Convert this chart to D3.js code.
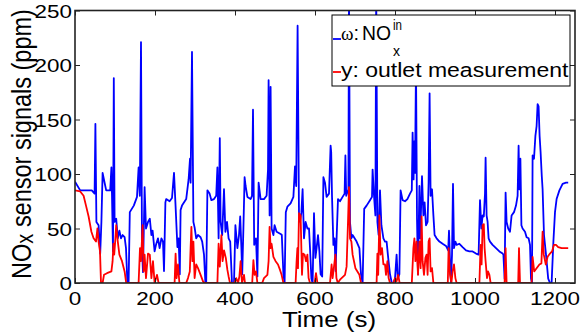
<!DOCTYPE html>
<html>
<head>
<meta charset="utf-8">
<script src="https://cdn.jsdelivr.net/npm/d3@7"></script>
<style>
  html, body { margin: 0; padding: 0; background: #fff; }
  svg { display: block; }
  text { font-family: "Liberation Sans", Arial, Helvetica, sans-serif; fill: #000; }
</style>
</head>
<body>
<div id="chart"></div>
<script>
// ---------------- data ----------------
const xTicks = [0, 200, 400, 600, 800, 1000, 1200];
const yTicks = [0, 50, 100, 150, 200, 250];
const xLabel = "Time (s)";
const yLabelParts = ["NO", "x", " sensor signals (ppm)"];
const legendLabels = ["ω", ":", "NO", "in", "x", "y: outlet measurement"];

// inlet NOx (omega) : [time s, ppm]
const inletSeries = [[0,93],[13,85],[42,85],[49,82],[51,146],[53.5,56],[59,53],[63,27],[66,56],[69,101],[74,92],[78,85],[88,85],[91,106],[92.5,80],[95,29],[97,188],[99,56],[103,59],[107,41],[111,48],[115,41],[119,44],[124,42],[127.5,32],[131,0],[134,0],[137,65],[147,71],[155,79],[159,106],[162,80],[165,221],[167.5,32],[170,10],[174,88],[177.5,50],[182.5,56],[187,59],[191,44],[194,48],[199,29],[202.5,35],[207.5,41],[211.5,32],[216,41],[220,38],[222.5,11],[226,74],[228,77],[236.5,75],[242.5,78],[247.5,101],[251,74],[256,33],[259,41],[262,8],[264,67],[267.5,71],[278,77],[284,95],[287.5,114],[289,92],[292.5,212],[296,56],[299,51],[303,41],[307.5,44],[314,42],[318,38],[322.5,26],[326,0],[328,0],[331,85],[336.5,82],[341,76],[347.5,77],[353,80],[356,106],[359,41],[362,133],[364,56],[368,44],[372.5,86],[376,47],[380,56],[384,41],[388,38],[392.5,0],[397.5,0],[401,53],[406,32],[410,44],[413,61],[416,32],[418,8],[421,50],[424,97],[426.5,89],[431,79],[439,77],[442.5,80],[445,159],[448,35],[452.5,41],[456,6],[459,92],[464,77],[472.5,77],[479,80],[482.5,104],[484,186],[486.5,62],[489,180],[491.5,50],[496,44],[499,53],[504,47],[514,45],[517,44],[521,8],[524,0],[527,65],[531,70],[539,73],[546,79],[550,107],[553,89],[556.5,236],[560,62],[562.5,56],[566,65],[569,86],[572.5,41],[576.5,56],[581,50],[585,50],[587.5,32],[591,4],[594,0],[597.5,64],[601,23],[604,32],[607.5,44],[611,29],[614,8],[618,6],[621,97],[625,92],[629,79],[635,82],[639,126],[640.5,120],[642.5,80],[646,35],[649,41],[651.5,11],[654,41],[657.5,77],[662.5,75],[669,79],[674,82],[676,117],[678,80],[683.5,86],[685,270],[687.5,56],[691,41],[694,44],[699,41],[704,38],[711,32],[715,8],[719,0],[723,68],[729,71],[737.5,76],[742.5,79],[744,104],[747.5,80],[751,62],[753,270],[756,56],[759,44],[762.5,85],[766,53],[771,41],[775,38],[779,38],[783,23],[787.5,8],[792,0],[796,0],[800,4],[804,26],[807,4],[811,8],[814,85],[819,76],[825,75],[831,77],[837.5,82],[842,85],[844,138],[846.5,95],[848,130],[850,101],[852.5,200],[855,59],[857.5,8],[861,89],[863,41],[867.5,98],[871,62],[874,74],[877.5,53],[881.5,56],[884,92],[886.5,174],[889,80],[892.5,86],[896,62],[899,44],[904,41],[911,38],[919,36],[927.5,34],[933,30],[935,48],[937.5,20],[940,0],[942.5,26],[945,91],[947.5,32],[951,38],[954,35],[961,36],[969,33],[977.5,30],[986,29],[994,29],[1002.5,27],[1009,26],[1012.5,76],[1016,50],[1019,62],[1022,61],[1025,82],[1026.5,115],[1029,62],[1031.5,56],[1034,41],[1037.5,38],[1044,35],[1052.5,32],[1061,29],[1069,27],[1071,26],[1074,4],[1076.5,83],[1079,56],[1083,50],[1087.5,47],[1091.5,62],[1097.5,65],[1102.5,71],[1106.5,80],[1109,126],[1111,86],[1113.5,114],[1116,53],[1119,50],[1125,47],[1129,42],[1134,41],[1137.5,35],[1140,4],[1142.5,0],[1144,117],[1147.5,114],[1151,135],[1154,144],[1156.5,164],[1159,162],[1161.5,135],[1164,120],[1167,98],[1169,86],[1172.5,44],[1177.5,26],[1183,4],[1187.5,0],[1191.5,0],[1196,38],[1200,65],[1204,77],[1211,85],[1219,91],[1227.5,92],[1233,92]];

// outlet measurement (y) : [time s, ppm]
const outletSeries = [[0,85],[13,84],[21.5,80],[27.5,71],[34,61],[41,47],[46.5,41],[52.5,38],[56,50],[59,38],[62.5,29],[65,0],[69,0],[72.5,7.5],[80,9],[91,10.6],[94,20],[96,36],[98,26],[101,41],[103,53],[107,38],[111,26],[117.5,20],[124,10.6],[128,0],[159,0],[162.5,32],[165,20],[169,53],[171.5,10.6],[174,26],[177.5,4.5],[182.5,27],[187,26],[191,4.5],[195,20],[199,0],[205,7.5],[209,0],[249,0],[251.5,27],[254,4.5],[257.5,17],[261,0],[278,0],[282.5,4.5],[287,10.6],[289,32],[291,51.5],[293.5,20],[296,38],[299,4.5],[303,17],[307.5,13.6],[314,7.5],[320,1.5],[324,0],[356,0],[359,36],[362,15],[366,44],[369,20],[372.5,30],[377,23],[381,12],[384,6],[387.5,0],[399,0],[403,4.5],[407.5,0],[411,6],[414,20],[417.5,0],[422.5,7.5],[425,0],[443,0],[446,21],[449,7.5],[452.5,10.6],[456,0],[468,0],[472.5,4.5],[481,7.5],[484,20],[486.5,51.5],[489,32],[491.5,36],[496,24],[501.5,20],[507.5,17],[512.5,12],[516.5,7.5],[521,0],[551.5,0],[554,20],[556,32],[557.5,13.6],[560,64],[564,62],[567.5,7.5],[570,27],[574,26],[577.5,20],[581,26],[584,4.5],[587.5,0],[599,0],[602.5,9],[606,0],[637.5,0],[641.5,17],[644,4.5],[647.5,15],[651,26],[653.5,4.5],[657,0],[662.5,3],[675,7.5],[679,15],[682.5,56],[685,88],[687.5,41],[691,38],[694,26],[697.5,20],[701,13.6],[706,10.6],[711,7.5],[715,0],[754,0],[756,27],[758,7.5],[761,62],[764,26],[767.5,32],[771,17],[775,17],[777.5,7.5],[781,20],[784,4.5],[787.5,0],[796,0],[800,4.5],[804,1.5],[808,7.5],[811.5,0],[842,0],[846,32],[848.5,41],[851,20],[854,38],[855,26],[857.5,7.5],[861,38],[864,13.6],[866.5,61],[869,20],[872.5,7.5],[876,23],[879,26],[881.5,7.5],[884,38],[886.5,41],[889,10.6],[892.5,13.6],[896,0],[932,0],[934,32],[937.5,7.5],[941,0],[944,10.6],[947.5,17],[951,4.5],[954,0],[1011,0],[1014,35],[1016.5,17],[1019,53],[1022,54],[1024,32],[1026.5,20],[1030,4.5],[1032.5,10.6],[1036,7.5],[1039,0],[1074,0],[1076.5,32],[1079,0],[1108,0],[1110,32],[1112.5,0],[1141.5,0],[1144,24],[1148,10.6],[1154,13.6],[1161,17],[1166,18],[1169,47],[1172,26],[1177,17],[1181.5,24],[1187.5,27],[1192.5,29],[1197.5,35],[1202.5,35],[1208,33],[1216.5,32],[1233,32]];

// ---------------- layout ----------------
const W = 580, H = 335;
const L = 75, R = 575, T = 10.5, B = 283;
const SX = 1.18; // horizontal stretch of the original figure text

const svg = d3.select("#chart").append("svg").attr("width", W).attr("height", H);

const x = d3.scaleLinear().domain([0, 1250]).range([L, R]);
const y = d3.scaleLinear().domain([0, 250]).range([B, T]);

svg.append("defs").append("clipPath").attr("id", "clip")
  .append("rect").attr("x", L).attr("y", T).attr("width", R - L).attr("height", B - T);

function sText(g, px, py, str, size, anchor) {
  return g.append("text")
    .attr("transform", `translate(${px},${py}) scale(${SX},1)`)
    .attr("text-anchor", anchor)
    .style("font-size", size + "px")
    .text(str);
}

// lines
const line = d3.line().x(d => x(d[0])).y(d => y(d[1]));
const plot = svg.append("g").attr("clip-path", "url(#clip)");
plot.append("path").datum(inletSeries).attr("d", line)
  .attr("fill", "none").attr("stroke", "#0000ff").attr("stroke-width", 1.8).attr("stroke-linejoin", "round");
plot.append("path").datum(outletSeries).attr("d", line)
  .attr("fill", "none").attr("stroke", "#ff0000").attr("stroke-width", 1.8).attr("stroke-linejoin", "round");

// axes (inward ticks on all four sides)
const ax = svg.append("g");
ax.append("g").attr("transform", `translate(0,${B})`)
  .call(d3.axisBottom(x).tickValues(xTicks).tickSize(-5).tickFormat(""));
ax.append("g").attr("transform", `translate(0,${T})`)
  .call(d3.axisTop(x).tickValues(xTicks).tickSize(-5).tickFormat(""));
ax.append("g").attr("transform", `translate(${L},0)`)
  .call(d3.axisLeft(y).tickValues(yTicks).tickSize(-5).tickFormat(""));
ax.append("g").attr("transform", `translate(${R},0)`)
  .call(d3.axisRight(y).tickValues(yTicks).tickSize(-5).tickFormat(""));
ax.selectAll(".domain").remove();
ax.selectAll(".tick line").attr("stroke", "#222").attr("stroke-width", 1);

// tick labels
xTicks.forEach(v => sText(svg, x(v), 304.5, String(v), 19, "middle"));
yTicks.forEach(v => sText(svg, 72, y(v) + 7, String(v), 19, "end"));

// frame
svg.append("rect").attr("x", L).attr("y", T).attr("width", R - L).attr("height", B - T)
  .attr("fill", "none").attr("stroke", "#222").attr("stroke-width", 1.6);

// axis labels
sText(svg, 329, 327, xLabel, 22, "middle");
const yt = svg.append("text")
  .attr("transform", `translate(31,144) scale(${SX},1) rotate(-90)`)
  .attr("text-anchor", "middle").style("font-size", "23.5px");
yt.append("tspan").text(yLabelParts[0]);
yt.append("tspan").style("font-size", "20px").attr("dy", 1.5).text(yLabelParts[1]);
yt.append("tspan").attr("dy", -1.5).text(yLabelParts[2]);

// legend
const lg = svg.append("g");
lg.append("rect").attr("x", 332).attr("y", 15).attr("width", 238).attr("height", 71)
  .attr("fill", "#fff").attr("stroke", "#000").attr("stroke-width", 1);
lg.append("line").attr("x1", 333).attr("x2", 341).attr("y1", 39).attr("y2", 39)
  .attr("stroke", "#0000ff").attr("stroke-width", 1.8);
lg.append("line").attr("x1", 333).attr("x2", 341).attr("y1", 72).attr("y2", 72)
  .attr("stroke", "#ff0000").attr("stroke-width", 1.8);
const om = lg.append("text").attr("x", 341).attr("y", 40);
om.append("tspan").style("font-family", "'Liberation Serif', 'DejaVu Serif', serif").style("font-size", "19px")
  .text(legendLabels[0]);
om.append("tspan").style("font-size", "20px").text(legendLabels[1]);
lg.append("text").attr("x", 362).attr("y", 40).style("font-size", "21px")
  .attr("textLength", 29).attr("lengthAdjust", "spacingAndGlyphs").text(legendLabels[2]);
lg.append("text").attr("x", 393).attr("y", 30).style("font-size", "14px")
  .attr("textLength", 9).attr("lengthAdjust", "spacingAndGlyphs").text(legendLabels[3]);
lg.append("text").attr("x", 393).attr("y", 55.5).style("font-size", "15px")
  .attr("textLength", 7).attr("lengthAdjust", "spacingAndGlyphs").text(legendLabels[4]);
sText(lg, 341, 77, legendLabels[5], 19.5, "start");
</script>
</body>
</html>
